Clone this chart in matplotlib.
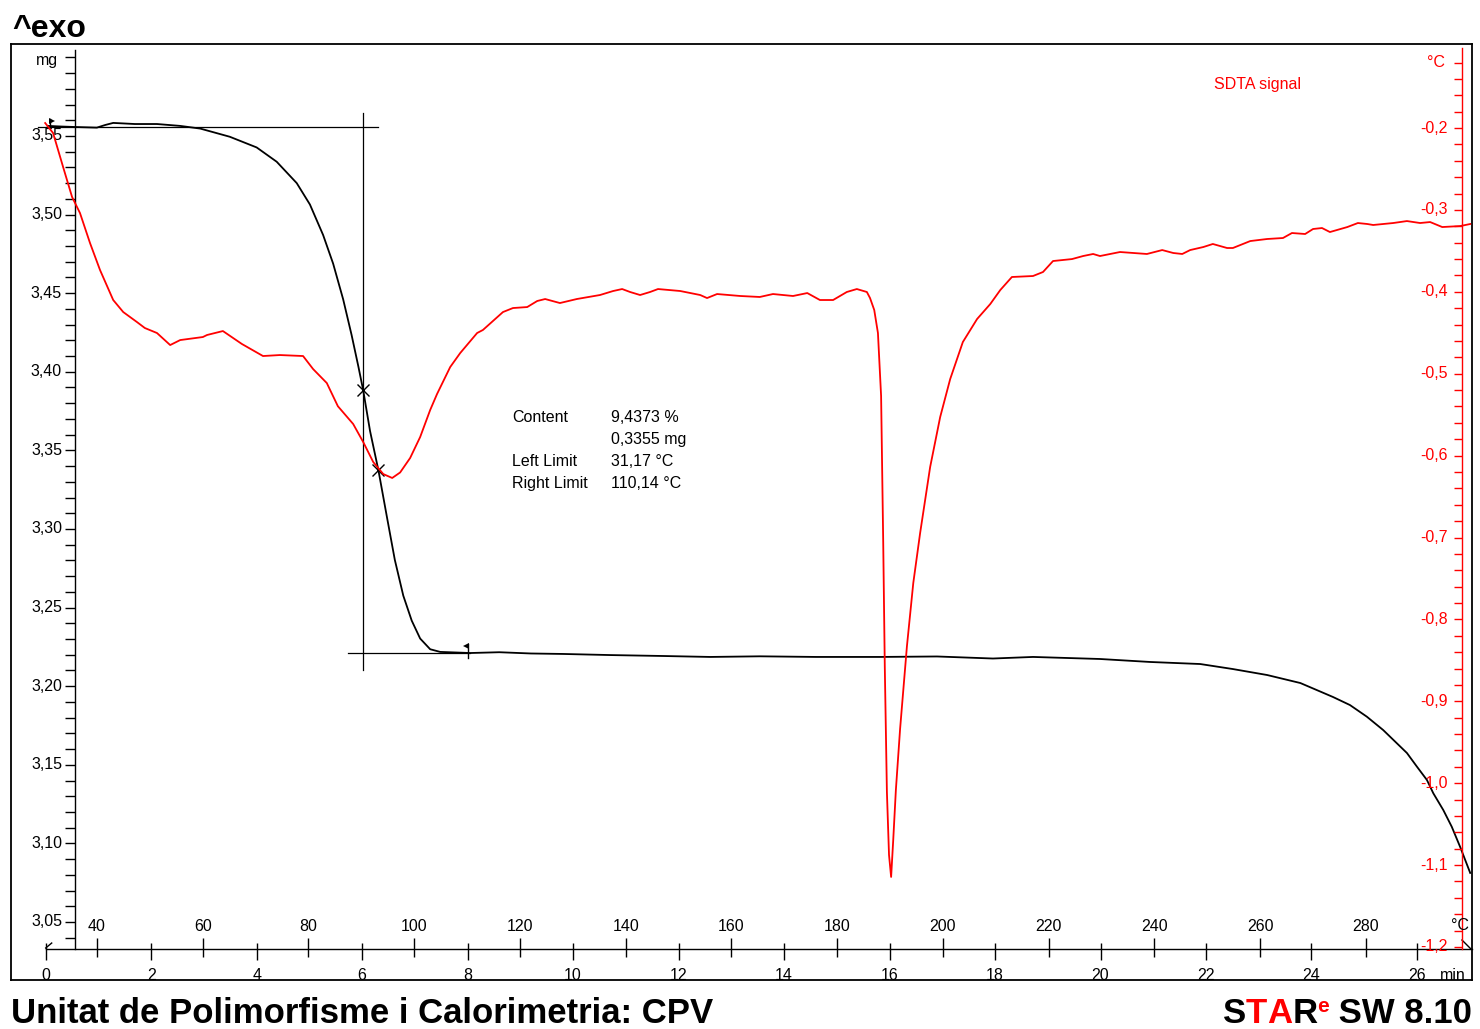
import matplotlib
matplotlib.use("Agg")
import matplotlib.pyplot as plt
from matplotlib.lines import TICKLEFT, TICKUP, TICKDOWN
import numpy as np

plt.rcParams["font.family"] = ["Liberation Sans", "DejaVu Sans"]

# TGA curve: time (min) / mass (mg)
tga_time = [0.04, 0.30, 0.56, 0.97, 1.13, 1.28, 1.69, 2.11, 2.55, 2.93, 3.49, 4.00,
            4.38, 4.76, 5.01, 5.26, 5.45, 5.64, 5.80, 5.93, 6.02, 6.15, 6.31, 6.47,
            6.62, 6.78, 6.94, 7.10, 7.29, 7.48, 8.05, 8.60, 9.20, 9.81, 10.70, 11.71,
            12.60, 13.54, 14.60, 15.82, 16.90, 17.96, 18.72, 19.99, 20.94, 21.89,
            22.51, 23.16, 23.79, 24.41, 24.73, 25.05, 25.36, 25.81, 26.00, 26.19,
            26.31, 26.50, 26.66, 26.82, 27.01]
tga_mass = [3.5564, 3.5560, 3.5557, 3.5553, 3.5570, 3.5583, 3.5576, 3.5576, 3.5564,
            3.5547, 3.5495, 3.5427, 3.5336, 3.5200, 3.5064, 3.4870, 3.4688, 3.4461,
            3.4234, 3.4031, 3.3882, 3.3623, 3.3371, 3.3076, 3.2803, 3.2576, 3.2417,
            3.2303, 3.2235, 3.2218, 3.2211, 3.2216, 3.2208, 3.2205, 3.2198, 3.2192,
            3.2186, 3.2190, 3.2186, 3.2186, 3.2189, 3.2176, 3.2186, 3.2173, 3.2154,
            3.2141, 3.2109, 3.2071, 3.2020, 3.1931, 3.1880, 3.1806, 3.1721, 3.1575,
            3.1488, 3.1403, 3.1319, 3.1212, 3.1106, 3.0977, 3.0812]

# SDTA signal: time (min) / degC
sdta_time = [-0.01, 0.14, 0.33, 0.50, 0.65, 0.84, 1.03, 1.28, 1.47, 1.73, 1.88, 2.11,
             2.36, 2.55, 2.98, 3.06, 3.36, 3.72, 4.12, 4.44, 4.88, 5.07, 5.33, 5.54,
             5.83, 6.02, 6.21, 6.40, 6.57, 6.72, 6.91, 7.10, 7.29, 7.42, 7.67, 7.86,
             8.18, 8.29, 8.67, 8.86, 9.13, 9.32, 9.47, 9.75, 10.07, 10.51, 10.76,
             10.93, 11.08, 11.27, 11.46, 11.61, 12.03, 12.41, 12.54, 12.73, 13.17,
             13.54, 13.79, 14.17, 14.44, 14.68, 14.93, 15.19, 15.38, 15.57, 15.63,
             15.71, 15.78, 15.84, 15.88, 15.91, 15.95, 15.99, 16.03, 16.07, 16.12,
             16.20, 16.33, 16.45, 16.58, 16.77, 16.96, 17.15, 17.39, 17.66, 17.91,
             18.10, 18.32, 18.72, 18.91, 19.10, 19.46, 19.67, 19.86, 19.99, 20.37,
             20.88, 21.17, 21.38, 21.55, 21.70, 21.95, 22.13, 22.40, 22.51, 22.84,
             23.16, 23.46, 23.63, 23.88, 24.03, 24.20, 24.35, 24.68, 24.88, 25.06,
             25.17, 25.55, 25.81, 26.06, 26.25, 26.48, 26.82, 27.01]
sdta_signal = [-0.1939, -0.2061, -0.2476, -0.2842, -0.3038, -0.3404, -0.3734, -0.4100,
               -0.4247, -0.4369, -0.4442, -0.4503, -0.4650, -0.4589, -0.4552, -0.4527,
               -0.4479, -0.4637, -0.4784, -0.4772, -0.4784, -0.4943, -0.5114, -0.5397,
               -0.5614, -0.5834, -0.6078, -0.6225, -0.6273, -0.6206, -0.6029, -0.5773,
               -0.5443, -0.5248, -0.4918, -0.4747, -0.4503, -0.4466, -0.4247, -0.4198,
               -0.4186, -0.4112, -0.4088, -0.4137, -0.4088, -0.4039, -0.3990, -0.3966,
               -0.4002, -0.4039, -0.4002, -0.3966, -0.3990, -0.4039, -0.4076, -0.4027,
               -0.4051, -0.4063, -0.4027, -0.4051, -0.4015, -0.4100, -0.4100, -0.4002,
               -0.3966, -0.4002, -0.4076, -0.4222, -0.4503, -0.5272, -0.7055, -0.8581,
               -1.0107, -1.0876, -1.1145, -1.0693, -1.0083, -0.9338, -0.8325, -0.7556,
               -0.6945, -0.6139, -0.5529, -0.5065, -0.4613, -0.4332, -0.4149, -0.3978,
               -0.3819, -0.3807, -0.3758, -0.3624, -0.3600, -0.3563, -0.3538, -0.3563,
               -0.3514, -0.3538, -0.3490, -0.3526, -0.3538, -0.3490, -0.3453, -0.3416,
               -0.3465, -0.3465, -0.3380, -0.3355, -0.3343, -0.3282, -0.3294, -0.3233,
               -0.3221, -0.3270, -0.3209, -0.3160, -0.3172, -0.3184, -0.3160, -0.3136,
               -0.3160, -0.3148, -0.3209, -0.3197, -0.3172]

# step evaluation
step_top = 3.5557
step_bottom = 3.2211
step_time = 6.02
step_marks_time = [6.02, 6.30]
step_marks_mass = [3.3884, 3.3375]
left_limit_C = 31.17
right_limit_C = 110.14
info_labels = ["Content", "", "Left Limit", "Right Limit"]
info_values = ["9,4373 %", "0,3355 mg", "31,17 °C", "110,14 °C"]

# axis ticks
mass_major = [3.05, 3.10, 3.15, 3.20, 3.25, 3.30, 3.35, 3.40, 3.45, 3.50, 3.55]
mass_minor = np.round(np.arange(3.04, 3.605, 0.01), 2)
sdta_major = [-1.2, -1.1, -1.0, -0.9, -0.8, -0.7, -0.6, -0.5, -0.4, -0.3, -0.2]
sdta_minor = np.round(np.arange(-1.20, -0.119, 0.02), 2)
time_ticks = list(range(0, 27, 2))
temp_ticks = list(range(40, 281, 20))
T0, RATE = 30.3, 9.975   # degC at t=0, K/min

W, H = 1480, 1029
RED = "#ff0000"


def fx(px):
    return px / W


def fy(py):
    return 1 - py / H


def t_of_temp(T):
    return (T - T0) / RATE


fig = plt.figure(figsize=(W / 100, H / 100), dpi=100)
ax = fig.add_axes([fx(11), fy(980), fx(1472) - fx(11), fy(44) - fy(980)])
ax.set_xlim(-0.658, 27.044)
ax.set_ylim(3.0131, 3.6085)
ax.set_xticks([])
ax.set_yticks([])
for sp in ax.spines.values():
    sp.set_linewidth(1.3)
    sp.set_color("black")

ax2 = ax.twinx()
ax2.set_ylim(-1.2403, -0.0974)
ax2.set_yticks([])
for sp in ax2.spines.values():
    sp.set_visible(False)

px_t = 1 / 52.74                      # minutes per pixel
px_m = (3.6085 - 3.0131) / 936        # mg per pixel

t_left_axis = 0.556
t_right_axis = 26.854
m_time_axis = 3.0328

# left (mass) axis
ax.plot([t_left_axis, t_left_axis], [m_time_axis, 3.6047], color="black", lw=1.0)
ax.plot([t_left_axis] * len(mass_minor), mass_minor, ls="none", marker=TICKLEFT,
        ms=7.2, mew=1.0, color="black")
for v in mass_major:
    ax.annotate(f"{v:.2f}".replace(".", ","), (t_left_axis, v), xytext=(-13, 0),
                textcoords="offset pixels", ha="right", va="center", fontsize=11.5,
                annotation_clip=False)
ax.annotate("mg", (t_left_axis, 3.598), xytext=(-17, 0), textcoords="offset pixels",
            ha="right", va="center", fontsize=11.5)

# right (SDTA) axis
ax2.plot([t_right_axis, t_right_axis], [-1.2024, -0.1023], color=RED, lw=1.0)
ax2.plot([t_right_axis] * len(sdta_minor), sdta_minor, ls="none", marker=TICKLEFT,
         ms=6.0, mew=1.0, color=RED)
for v in sdta_major:
    ax2.annotate(f"{v:.1f}".replace(".", ","), (t_right_axis, v), xytext=(-14, 0),
                 textcoords="offset pixels", ha="right", va="center", fontsize=11.5,
                 color=RED)
ax2.annotate("°C", (t_right_axis, -0.12), xytext=(-17, 0), textcoords="offset pixels",
             ha="right", va="center", fontsize=11.5, color=RED)

# bottom time / temperature axis
ax.plot([0, 27.044], [m_time_axis, m_time_axis], color="black", lw=1.0, clip_on=False)
ax.plot(time_ticks, [m_time_axis] * len(time_ticks), ls="none", marker=TICKUP,
        ms=4.5, mew=1.0, color="black")
ax.plot(time_ticks, [m_time_axis] * len(time_ticks), ls="none", marker=TICKDOWN,
        ms=8.0, mew=1.0, color="black")
temp_t = [t_of_temp(T) for T in temp_ticks]
ax.plot(temp_t, [m_time_axis] * len(temp_t), ls="none", marker=TICKUP,
        ms=8.0, mew=1.0, color="black")
ax.plot(temp_t, [m_time_axis] * len(temp_t), ls="none", marker=TICKDOWN,
        ms=5.5, mew=1.0, color="black")
for tt in time_ticks:
    ax.annotate(str(tt), (tt, m_time_axis), xytext=(0, -26), textcoords="offset pixels",
                ha="center", va="center", fontsize=11.5)
for T, tt in zip(temp_ticks, temp_t):
    ax.annotate(str(T), (tt, m_time_axis), xytext=(0, 23), textcoords="offset pixels",
                ha="center", va="center", fontsize=11.5)
ax.plot([0, 6 * px_t], [m_time_axis + px_m, m_time_axis + 6 * px_m], color="black", lw=1.0)
ax.plot([t_right_axis, t_right_axis + 9 * px_t], [m_time_axis + 9 * px_m, m_time_axis],
        color="black", lw=1.0)
fig.text(fx(1453), fy(975), "min", ha="center", va="center", fontsize=11.5)
fig.text(fx(1460), fy(926), "°C", ha="center", va="center", fontsize=11.5)

# curves
ax.plot(tga_time, tga_mass, color="black", lw=1.3, zorder=3)
ax2.plot(sdta_time, sdta_signal, color=RED, lw=1.3, zorder=3)

# step construction
ax.plot([-0.146, 6.30], [step_top, step_top], color="black", lw=0.9)
ax.plot([5.73, 8.05], [step_bottom, step_bottom], color="black", lw=0.9)
ax.plot([step_time, step_time], [3.2103, 3.5646], color="black", lw=0.9)
ax.plot(step_marks_time, step_marks_mass, ls="none", marker="x", ms=9, mew=1.0,
        color="black", zorder=4)
tl, tr = t_of_temp(left_limit_C), t_of_temp(right_limit_C)
ax.plot([tl, tl], [step_top, step_top + 8 * px_m], color="black", lw=1.0)
ax.plot([tl + 2 * px_t], [step_top + 6 * px_m], marker=">", ms=5, color="black", mew=0)
ax.plot([tr, tr], [step_bottom - 5 * px_m, step_bottom + 9 * px_m], color="black", lw=1.0)
ax.plot([tr - 2 * px_t], [step_bottom + 7 * px_m], marker="<", ms=5, color="black", mew=0)

# result box
for i, (lab, val) in enumerate(zip(info_labels, info_values)):
    yy = 417 + 22.3 * i
    fig.text(fx(512), fy(yy), lab, ha="left", va="center", fontsize=11.5)
    fig.text(fx(611), fy(yy), val, ha="left", va="center", fontsize=11.5)

fig.text(fx(1258), fy(84), "SDTA signal", ha="center", va="center", fontsize=11.5,
         color=RED)

# header / footer
fig.text(fx(12), fy(37), "^exo", ha="left", va="baseline", fontsize=23,
         fontweight="bold")
fig.text(fx(11), fy(1023), "Unitat de Polimorfisme i Calorimetria: CPV", ha="left",
         va="baseline", fontsize=25, fontweight="bold")

renderer = fig.canvas.get_renderer()
pieces = [("S", "black", 25, 0), ("T", RED, 25, 0), ("A", RED, 25, 0),
          ("R", "black", 25, 0), ("e", RED, 15, 11), (" SW 8.10", "black", 25, 0)]
objs = []
for s, c, fs, rise in pieces:
    txt = fig.text(0, 0, s, color=c, fontsize=fs, fontweight="bold", va="baseline")
    objs.append((txt, rise))
widths = [txt.get_window_extent(renderer).width for txt, _ in objs]
x = 1472 - sum(widths)
for (txt, rise), w in zip(objs, widths):
    txt.set_position((fx(x), fy(1023 - rise)))
    x += w

fig.savefig("out.png", dpi=100)
